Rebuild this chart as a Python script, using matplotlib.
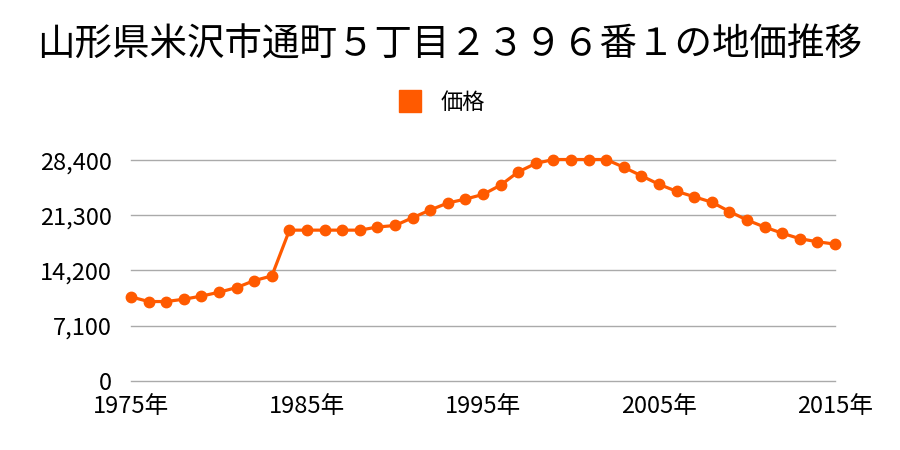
import matplotlib.pyplot as plt
from matplotlib.lines import Line2D

plt.rcParams['font.family'] = ['Noto Sans CJK JP', 'DejaVu Sans']

years = list(range(1975, 2016))
prices = [10800, 10200, 10200, 10500, 10900, 11400, 12000, 12900, 13500,
          19400, 19400, 19400, 19400, 19400, 19800, 20000, 21000, 22000,
          22900, 23400, 24000, 25200, 26900, 28000, 28500, 28500, 28500,
          28500, 27500, 26400, 25300, 24400, 23700, 23000, 21800, 20700,
          19800, 19000, 18300, 17900, 17600]
yticks = [0, 7100, 14200, 21300, 28400]
xticks = [1975, 1985, 1995, 2005, 2015]
title = '山形県米沢市通町５丁目２３９６番１の地価推移'
color = '#ff5a00'

fig = plt.figure(figsize=(9, 4.5), dpi=100)
ax = fig.add_axes([0.1456, 0.154, 0.7822, 0.4898])

ax.plot(years, prices, color=color, linewidth=2.3, marker='o', markersize=7.5,
        clip_on=False, zorder=3)

ax.set_xlim(1975, 2015)
ax.set_ylim(0, 28400)
ax.set_yticks(yticks)
ax.set_yticklabels([f'{v:,}' for v in yticks])
ax.set_xticks(xticks)
ax.set_xticklabels([f'{y}年' for y in xticks])
ax.tick_params(length=0, labelsize=17)
ax.tick_params(axis='x', pad=10)
ax.tick_params(axis='y', pad=14)
for v in yticks:
    ax.axhline(v, color='#aaaaaa', linewidth=1, clip_on=False, zorder=1)
for s in ax.spines.values():
    s.set_visible(False)

fig.text(0.5, 0.9, title, ha='center', va='center', fontsize=27)

handle = Line2D([], [], color=color, marker='s', linestyle='none', markersize=16)
fig.legend([handle], ['価格'], loc='center', bbox_to_anchor=(0.485, 0.773),
           frameon=False, fontsize=16, handletextpad=0.4)

plt.savefig('out.png')
